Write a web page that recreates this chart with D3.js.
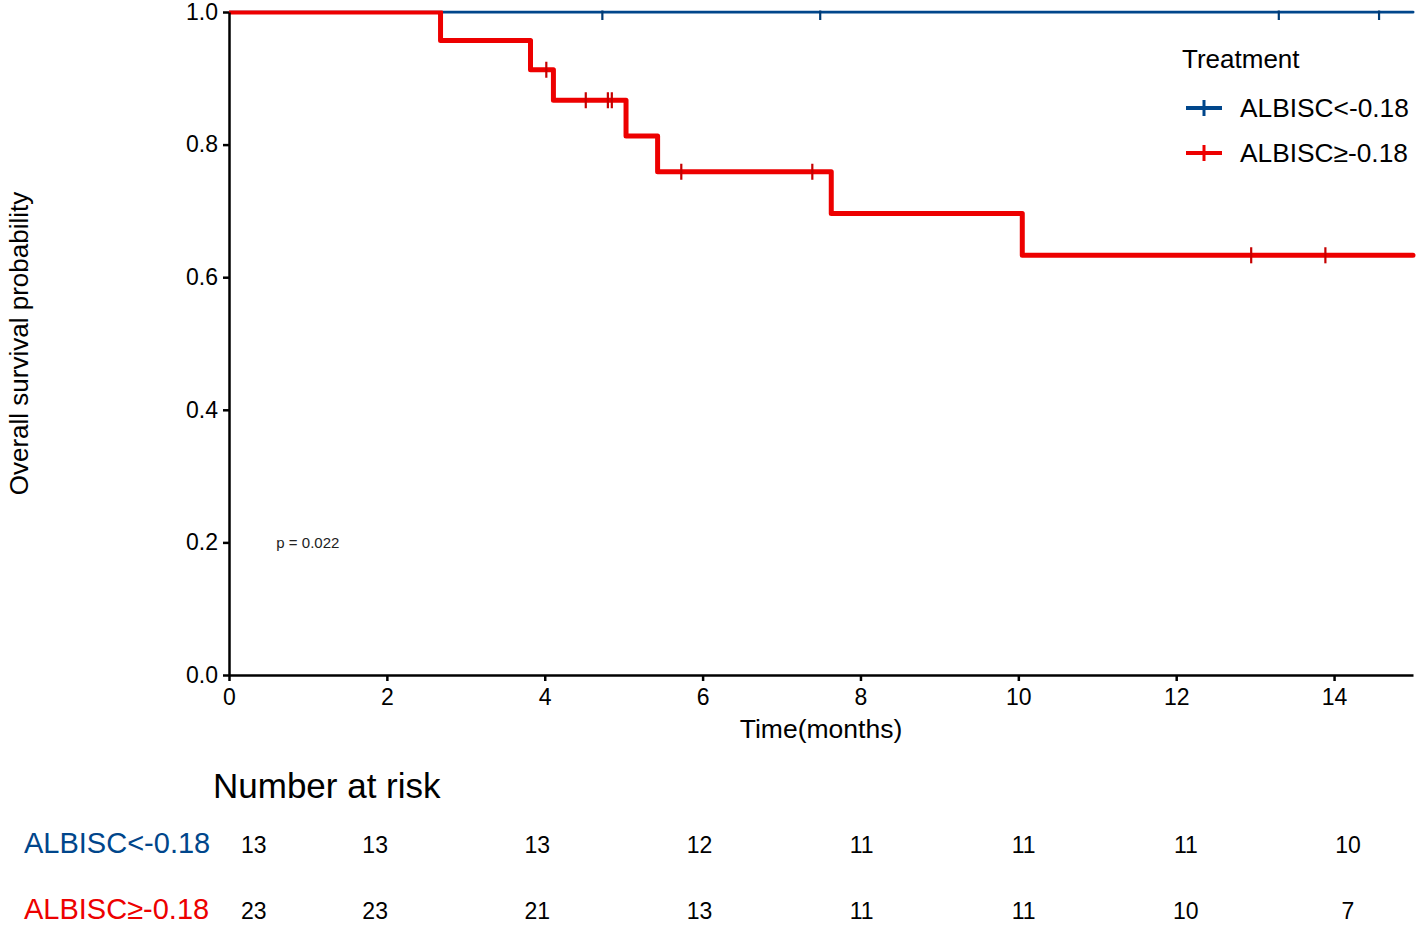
<!DOCTYPE html>
<html>
<head>
<meta charset="utf-8">
<script src="https://cdn.jsdelivr.net/npm/d3@7"></script>
<style>
  body { margin: 0; background: #fff; }
  text { font-family: "Liberation Sans", Arial, sans-serif; }
</style>
</head>
<body>
<div id="chart"></div>
<script>
// survival curves (step times in months, survival after each step)
const groups = ["ALBISC<-0.18", "ALBISC\u2265-0.18"];
const colors = ["#00468B", "#ED0000"];
const blueTimes = [0];
const blueSurv = [1.0];
const blueCensor = [4.73, 7.49, 13.3, 14.57];
const redTimes = [0, 2.68, 3.82, 4.11, 5.03, 5.43, 7.63, 10.05];
const redSurv = [1.0, 0.957, 0.913, 0.867, 0.813, 0.759, 0.696, 0.633];
const redCensor = [4.02, 4.52, 4.80, 4.85, 5.73, 7.39, 12.95, 13.89];
const xTicks = [0, 2, 4, 6, 8, 10, 12, 14];
const yTicks = [0, 0.2, 0.4, 0.6, 0.8, 1.0];
const riskTimes = [0, 2, 4, 6, 8, 10, 12, 14];
const riskBlue = [13, 13, 13, 12, 11, 11, 11, 10];
const riskRed = [23, 23, 21, 13, 11, 11, 10, 7];
const pText = "p = 0.022";
const tMax = 15;

const W = 1417, H = 931;
const margin = { top: 12, left: 229, right: 4, bottom: 256 };
const width = W - margin.left - margin.right;
const height = H - margin.top - margin.bottom;

let svg = d3.select("#chart").append("svg")
  .attr("width", W).attr("height", H);

let x = d3.scaleLinear().domain([0, tMax]).range([margin.left, margin.left + width]);
let y = d3.scaleLinear().domain([0, 1]).range([margin.top + height, margin.top]);

svg.append("clipPath").attr("id", "clip")
  .append("rect")
  .attr("x", margin.left).attr("y", margin.top - 1.5)
  .attr("width", width + 4).attr("height", height + 10);

// build step path points
function steps(times, surv) {
  let pts = [];
  times.forEach((t, i) => {
    if (i > 0) pts.push([t, surv[i - 1]]);
    pts.push([t, surv[i]]);
  });
  pts.push([tMax, surv[surv.length - 1]]);
  return pts;
}
function survAt(times, surv, t) {
  let s = surv[0];
  times.forEach((tt, i) => { if (tt <= t) s = surv[i]; });
  return s;
}

const line = d3.line().x(d => x(d[0])).y(d => y(d[1]));
const series = [
  { times: blueTimes, surv: blueSurv, cens: blueCensor, col: colors[0], lw: 3 },
  { times: redTimes, surv: redSurv, cens: redCensor, col: colors[1], lw: 5 }
];

let plot = svg.append("g").attr("clip-path", "url(#clip)");
series.forEach(s => {
  plot.append("path")
    .datum(steps(s.times, s.surv))
    .attr("d", line)
    .attr("fill", "none")
    .attr("stroke", s.col)
    .attr("stroke-width", s.lw)
    .attr("stroke-linejoin", "round")
    .attr("stroke-linecap", "round");
  plot.selectAll(null).data(s.cens).enter().append("line")
    .attr("x1", d => x(d)).attr("x2", d => x(d))
    .attr("y1", d => y(survAt(s.times, s.surv, d)) - 8)
    .attr("y2", d => y(survAt(s.times, s.surv, d)) + 8)
    .attr("stroke", d3.color(s.col).darker(0.5))
    .attr("stroke-width", 2.2);
});

// axes
let xAxis = svg.append("g")
  .attr("transform", `translate(0,${margin.top + height})`)
  .call(d3.axisBottom(x).tickValues(xTicks).tickFormat(d3.format("d")).tickSize(6).tickSizeOuter(0));
let yAxis = svg.append("g")
  .attr("transform", `translate(${margin.left},0)`)
  .call(d3.axisLeft(y).tickValues(yTicks).tickFormat(d3.format(".1f")).tickSize(6).tickSizeOuter(0));
[xAxis, yAxis].forEach(a => {
  a.select(".domain").attr("stroke", "#000").attr("stroke-width", 2.5);
  a.selectAll(".tick line").attr("stroke", "#000").attr("stroke-width", 2.5);
  a.selectAll(".tick text").attr("fill", "#000").style("font-size", "23px")
    .style("font-family", "Liberation Sans, Arial, sans-serif");
});
xAxis.selectAll(".tick text").attr("dy", "0.85em").attr("y", 10);
yAxis.selectAll(".tick text").attr("x", -11);

// axis titles
svg.append("text")
  .attr("x", margin.left + width / 2).attr("y", 738)
  .attr("text-anchor", "middle").style("font-size", "26.5px")
  .text("Time(months)");
svg.append("text")
  .attr("transform", `translate(28,${margin.top + height / 2}) rotate(-90)`)
  .attr("text-anchor", "middle").style("font-size", "26px")
  .text("Overall survival probability");

// p value
svg.append("text")
  .attr("x", x(0.6)).attr("y", 548)
  .style("font-size", "15px").attr("fill", "#222")
  .text(pText);

// legend
let lg = svg.append("g").attr("transform", "translate(1182,0)");
lg.append("text").attr("x", 0).attr("y", 68).style("font-size", "26px").text("Treatment");
groups.forEach((g, i) => {
  let yy = 108 + i * 45;
  lg.append("line").attr("x1", 4).attr("x2", 40).attr("y1", yy).attr("y2", yy)
    .attr("stroke", colors[i]).attr("stroke-width", 4);
  lg.append("line").attr("x1", 22).attr("x2", 22).attr("y1", yy - 8).attr("y2", yy + 8)
    .attr("stroke", colors[i]).attr("stroke-width", 3);
  lg.append("text").attr("x", 58).attr("y", yy + 9).style("font-size", "26.3px").text(g);
});

// risk table
svg.append("text").attr("x", 213).attr("y", 798).style("font-size", "35px").text("Number at risk");
let rx = d3.scaleLinear().domain([0, 14]).range([213, 1348]);
[riskBlue, riskRed].forEach((vals, i) => {
  let yy = 853 + i * 66;
  svg.append("text").attr("x", 24).attr("y", yy).style("font-size", "29px")
    .attr("fill", colors[i]).text(groups[i]);
  svg.selectAll(null).data(riskTimes).enter().append("text")
    .attr("x", (d, j) => j === 0 ? rx(d) + 28 : rx(d))
    .attr("y", yy)
    .attr("text-anchor", (d, j) => j === 0 ? "start" : "middle")
    .style("font-size", "23px")
    .text((d, j) => vals[j]);
});
</script>
</body>
</html>
